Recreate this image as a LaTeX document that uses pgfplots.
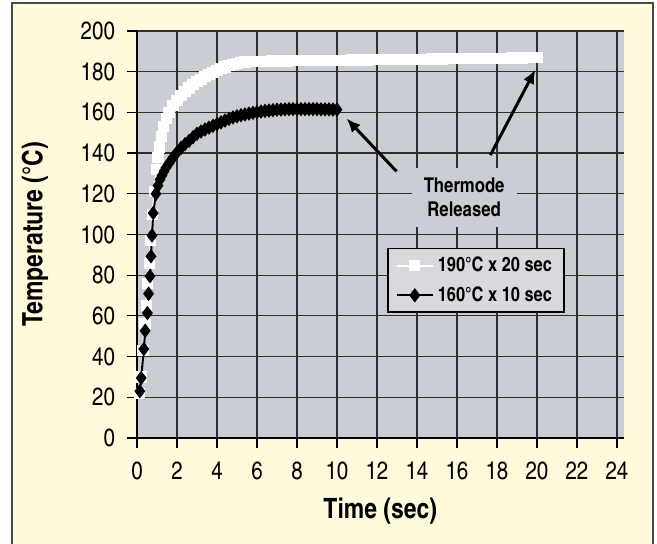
\documentclass[border=0pt]{standalone}
\usepackage{fontspec}
\setmainfont{TeX Gyre Heros Cn}
\usepackage{pgfplots}
\pgfplotsset{compat=1.18}
\usetikzlibrary{arrows.meta}

\definecolor{framebg}{HTML}{FFFADC}
\definecolor{plotbg}{HTML}{CACDD4}
\definecolor{legbg}{HTML}{D8D9DD}
\definecolor{framecol}{HTML}{4A4A4A}
\definecolor{gridcol}{HTML}{2E2E2E}

\begin{document}
\begin{tikzpicture}
\path[use as bounding box] (0pt,0pt) rectangle (328.5pt,272pt);
\fill[framebg] (5.75pt,-2pt) rectangle (326.25pt,270.5pt);
\draw[framecol, line width=1pt] (5.75pt,-2pt) -- (5.75pt,270.5pt) -- (326.25pt,270.5pt) -- (326.25pt,-2pt);

\begin{axis}[
  at={(68.5pt,53pt)}, anchor=south west,
  scale only axis, width=243.25pt, height=203.5pt,
  xmin=0, xmax=24.33, ymin=0, ymax=200,
  xtick={0,2,...,24}, ytick={0,20,...,200},
  axis x line*=bottom, axis y line*=left,
  axis line style={black, line width=0.75pt},
  grid=major,
  major grid style={gridcol, line width=0.6pt},
  axis background/.style={fill=plotbg},
  tick align=outside, major tick length=5pt,
  tick style={black, line width=0.6pt},
  ticklabel style={font=\fontsize{12.5}{14}\selectfont},
  xticklabel style={yshift=-3.5pt},
  yticklabel style={xshift=-2.5pt},
  /pgf/number format/assume math mode=true,
  xlabel={Time (sec)},
  ylabel={Temperature (°C)},
  label style={font=\bfseries\fontsize{14}{16.5}\selectfont},
  xlabel style={at={(axis description cs:0.5,-0.18)}, anchor=center},
  ylabel style={at={(axis description cs:-0.21,0.5)}, anchor=center},
  legend style={at={(axis description cs:0.514,0.467)}, anchor=north west,
    fill=legbg, draw=black, line width=0.75pt,
    font=\bfseries\fontsize{10}{11.5}\selectfont, row sep=2pt,
    inner xsep=4pt, inner ysep=2pt},
  legend cell align=left,
  legend image code/.code={
    \draw[mark repeat=2, mark phase=2] plot coordinates {(0pt,0pt) (9pt,0pt) (18pt,0pt)};},
]

% 190 C x 20 sec
\addplot [white, line width=1pt, mark=square*, mark size=2.3pt,
  mark options={fill=white, draw=white}] table {
x y
0.12 22
0.2 30
0.3 43
0.4 56
0.46 65
0.53 76
0.61 86
0.69 97
0.77 110
0.87 121
0.97 132
1.05 138
1.13 143
1.22 148
1.34 153
1.48 157
1.6 159.8
1.8 163.3
2.0 166
2.2 168.3
2.4 170.3
2.6 172
2.8 173.6
3.0 175
3.2 176.3
3.4 177.5
3.6 178.6
3.8 179.6
4.0 180.6
4.2 181.5
4.4 182.3
4.6 183.0
4.8 183.6
5.0 184.1
5.2 184.5
5.4 184.8
5.6 185.0
5.8 185.1
6.0 185.2
6.25 185.2
6.5 185.2
6.75 185.3
7 185.3
7.25 185.3
7.5 185.3
7.75 185.4
8 185.4
8.25 185.4
8.5 185.4
8.75 185.5
9 185.5
9.25 185.5
9.5 185.5
9.75 185.6
10 185.6
10.25 185.6
10.5 185.6
10.75 185.7
11 185.7
11.25 185.7
11.5 185.7
11.75 185.8
12 185.8
12.25 185.8
12.5 185.9
12.75 185.9
13 185.9
13.25 186.0
13.5 186.0
13.75 186.0
14 186.1
14.25 186.1
14.5 186.1
14.75 186.2
15 186.2
15.25 186.2
15.5 186.3
15.75 186.3
16 186.3
16.25 186.3
16.5 186.4
16.75 186.4
17 186.4
17.25 186.5
17.5 186.5
17.75 186.5
18 186.6
18.25 186.6
18.5 186.6
18.75 186.7
19 186.7
19.25 186.7
19.5 186.8
19.75 186.8
20 186.8
};

% 160 C x 10 sec
\addplot [black, line width=1pt, mark=diamond*, mark size=2.8pt] table {
x y
0.14 23
0.21 29.5
0.34 43.7
0.41 52.7
0.52 61.4
0.58 70.9
0.65 79.5
0.70 89.3
0.75 99.5
0.81 110.5
0.95 120
1.05 124
1.15 127
1.25 129
1.35 131
1.45 132.8
1.6 135
1.8 137.8
2.0 140.3
2.2 142.5
2.4 144.4
2.6 146.0
2.8 147.8
3.0 149.5
3.2 150.6
3.4 151.6
3.6 152.5
3.8 153.4
4.0 154.2
4.2 155.1
4.4 156.0
4.6 156.8
4.8 157.5
5.0 158.1
5.2 158.6
5.4 159.0
5.6 159.4
5.8 159.8
6.0 160.1
6.2 160.4
6.4 160.7
6.6 160.9
6.8 161.1
7.0 161.3
7.2 161.4
7.4 161.5
7.6 161.6
7.8 161.6
8.0 161.6
8.2 161.6
8.4 161.6
8.6 161.6
8.8 161.6
9.0 161.6
9.2 161.5
9.4 161.5
9.6 161.5
9.8 161.4
10.0 161.4
};

\legend{190°C x 20 sec, 160°C x 10 sec}

\node[fill=plotbg, minimum width=52.5pt, minimum height=29.5pt, inner sep=0pt,
  align=center, font=\bfseries\fontsize{10.2}{12}\selectfont]
  at (axis cs:16.36,118.3) {Thermode\\Released};
\draw[line width=1.5pt, -{Latex[length=7pt,width=6pt]}]
  (axis cs:12.98,131) -- (axis cs:10.48,157);
\draw[line width=1.5pt, -{Latex[length=7pt,width=6pt]}]
  (axis cs:17.67,139) -- (axis cs:19.92,181);
\end{axis}
\end{tikzpicture}
\end{document}
